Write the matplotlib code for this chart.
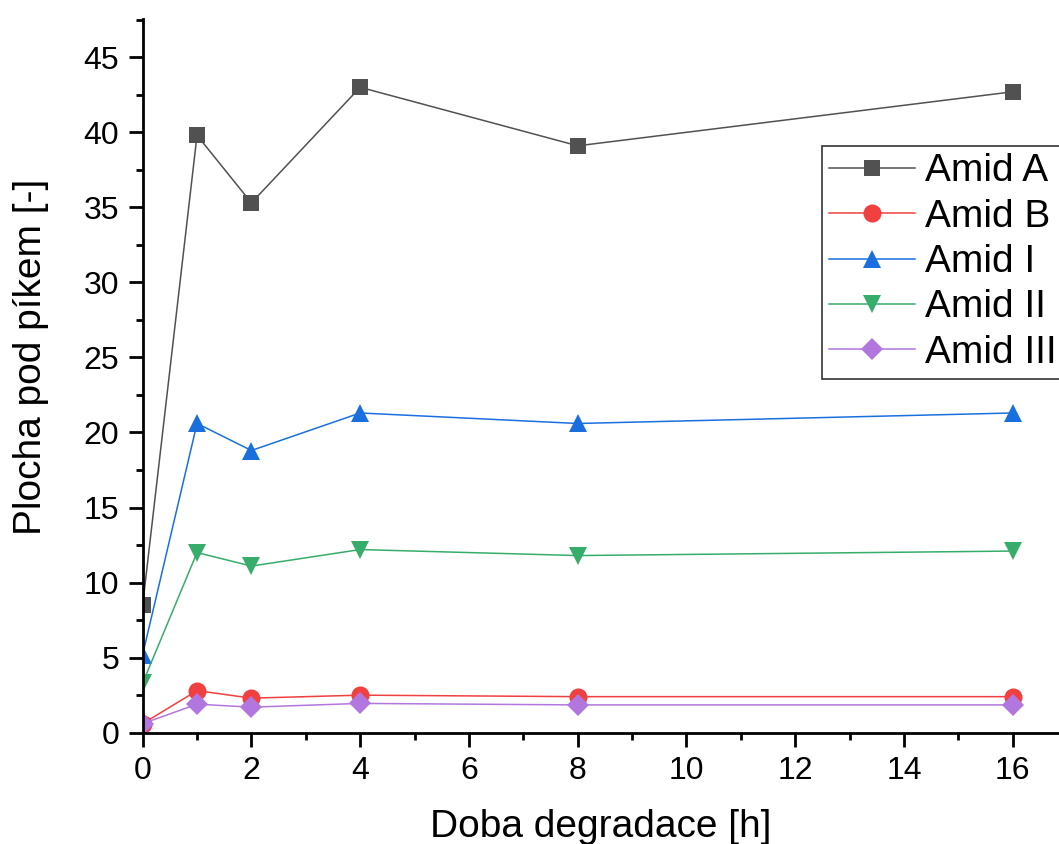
import matplotlib
matplotlib.use('Agg')
import matplotlib.pyplot as plt
from matplotlib.ticker import MultipleLocator

plt.rcParams['font.family'] = ['Liberation Sans', 'DejaVu Sans']

# doba degradace [h]
hours = [0, 1, 2, 4, 8, 16]

amid_a = [8.5, 39.8, 35.3, 43.0, 39.1, 42.7]
amid_b = [0.6, 2.8, 2.3, 2.5, 2.4, 2.4]
amid_i = [5.2, 20.6, 18.8, 21.3, 20.6, 21.3]
amid_ii = [3.3, 12.0, 11.1, 12.2, 11.8, 12.1]
amid_iii = [0.6, 1.9, 1.7, 1.95, 1.85, 1.85]

labels = ['Amid A', 'Amid B', 'Amid I', 'Amid II', 'Amid III']
colors = ['#515151', '#F14040', '#1A6FDF', '#37AD6B', '#B177DE']
markers = ['s', 'o', '^', 'v', 'D']
msizes = [12, 13, 13, 13, 11]

fig = plt.figure(figsize=(10.59, 8.44), dpi=100)
ax = fig.add_axes([0.1347, 0.1319, 0.8653, 0.8456])

for y, lab, c, m, ms in zip([amid_a, amid_b, amid_i, amid_ii, amid_iii], labels, colors, markers, msizes):
    ax.plot(hours, y, color=c, lw=1.1, marker=m, markersize=ms, markeredgewidth=0, label=lab)

ax.set_xlim(0, 16.85)
ax.set_ylim(0, 47.55)
ax.xaxis.set_major_locator(MultipleLocator(2))
ax.xaxis.set_minor_locator(MultipleLocator(1))
ax.yaxis.set_major_locator(MultipleLocator(5))
ax.yaxis.set_minor_locator(MultipleLocator(2.5))

ax.spines['top'].set_visible(False)
ax.spines['right'].set_visible(False)
for s in ['left', 'bottom']:
    ax.spines[s].set_linewidth(2)
ax.tick_params(which='major', direction='out', length=10, width=2, labelsize=23, pad=7)
ax.tick_params(which='minor', direction='out', length=5, width=2)

ax.set_xlabel('Doba degradace [h]', fontsize=28, labelpad=16)
ax.set_ylabel('Plocha pod píkem [-]', fontsize=28)
ax.yaxis.set_label_coords(-0.102, 0.527)

leg = ax.legend(loc='upper left', bbox_to_anchor=(821.7 / 1059, 1 - 145.7 / 844),
                bbox_transform=fig.transFigure, fontsize=28, frameon=True, fancybox=False,
                borderaxespad=0, handlelength=2.2, labelspacing=0.24, borderpad=0.2,
                handletextpad=0.25)
leg.get_frame().set_edgecolor('black')
leg.get_frame().set_linewidth(1.2)

fig.savefig('out.png', dpi=100)
